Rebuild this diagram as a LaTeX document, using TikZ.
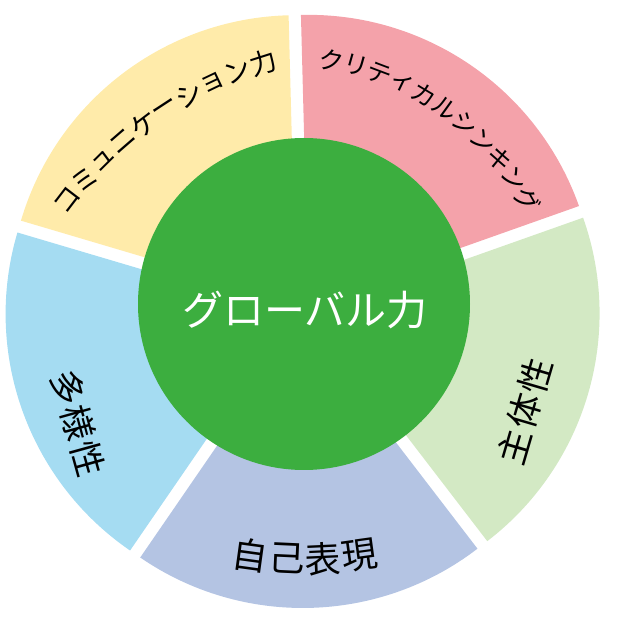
\documentclass[tikz,border=0pt]{standalone}
\usepackage{fontspec}
\setmainfont{Noto Sans CJK JP}
\definecolor{yelseg}{HTML}{FFEBAA}
\definecolor{pinkseg}{HTML}{F4A2AA}
\definecolor{greenseg}{HTML}{D3E9C4}
\definecolor{purpseg}{HTML}{B4C4E3}
\definecolor{blueseg}{HTML}{A5DCF2}
\definecolor{cgreen}{HTML}{3CAE3F}
\begin{document}
\begin{tikzpicture}[x=1pt,y=1pt,
  chr/.style={inner sep=0pt, outer sep=0pt, text=black},
  ytxt/.style={chr, font=\fontsize{27}{27}\selectfont},
  ptxt/.style={chr, font=\fontsize{25}{25}\selectfont},
  stxt/.style={chr, font=\fontsize{35}{35}\selectfont},
  btxt/.style={chr, font=\fontsize{36}{36}\selectfont},
  hub/.style={circle, fill=cgreen, draw=none, minimum size=332pt, inner sep=0pt},
  hubtxt/.style={inner sep=0pt, text=white, font=\fontsize{41}{41}\selectfont}]
\useasboundingbox (0,0) rectangle (625,622);
\coordinate (C) at (302.5,311.5);
% exploded pie slices
\foreach \s/\e/\col/\n in {19.5/91.5/pinkseg/pk, -52.5/19.5/greenseg/gn, -124.5/-52.5/purpseg/pu, 163.5/235.5/blueseg/bl, 91.5/163.5/yelseg/ye} {
  \pgfmathsetmacro\m{(\s+\e)/2}
  \fill[\col] ([shift={(\m:10.5pt)}]C) coordinate (\n) -- ++(\s:287pt) arc[start angle=\s, end angle=\e, radius=287pt] -- cycle;
}
% hub
\node[hub] (hub) at (304,318) {};
\node[hubtxt] (hubt) at (305,312) {グローバル力};
% yellow label on arc
\coordinate (yc) at (384,180);
\foreach \c [count=\i from 0] in {コ,ミ,ュ,ニ,ケ,ー,シ,ョ,ン,力} {
  \pgfmathsetmacro\a{142.6-3.88*\i}
  \pgfmathsetmacro\r{\a-90}
  \node[ytxt, rotate=\r] (ya\i) at ([shift={(\a:398pt)}]yc) {\c};
}
% pink label on arc
\coordinate (pc) at (279,282);
\foreach \c [count=\i from 0] in {ク,リ,テ,ィ,カ,ル,シ,ン,キ,ン,グ} {
  \pgfmathsetmacro\a{79.3-4.99*\i}
  \pgfmathsetmacro\r{\a-90}
  \node[ptxt, rotate=\r] (pa\i) at ([shift={(\a:285pt)}]pc) {\c};
}
% left label
\coordinate (lc) at (78,199);
\foreach \c [count=\i from -1] in {多,様,性} {
  \pgfmathsetmacro\d{\i*37}
  \node[stxt, rotate=-74.5] (la\i) at ([shift={(-74.5:\d pt)}]lc) {\c};
}
% right label
\coordinate (rc) at (525,211);
\foreach \c [count=\i from -1] in {主,体,性} {
  \pgfmathsetmacro\d{\i*37}
  \node[stxt, rotate=73.7] (ra\i) at ([shift={(73.7:\d pt)}]rc) {\c};
}
% bottom label
\coordinate (bc) at (305,463);
\foreach \c [count=\i from 0] in {自,己,表,現} {
  \pgfmathsetmacro\a{-97.84+5.23*\i}
  \pgfmathsetmacro\r{\a+90}
  \node[btxt, rotate=\r] (ba\i) at ([shift={(\a:400pt)}]bc) {\c};
}
\end{tikzpicture}
\end{document}
